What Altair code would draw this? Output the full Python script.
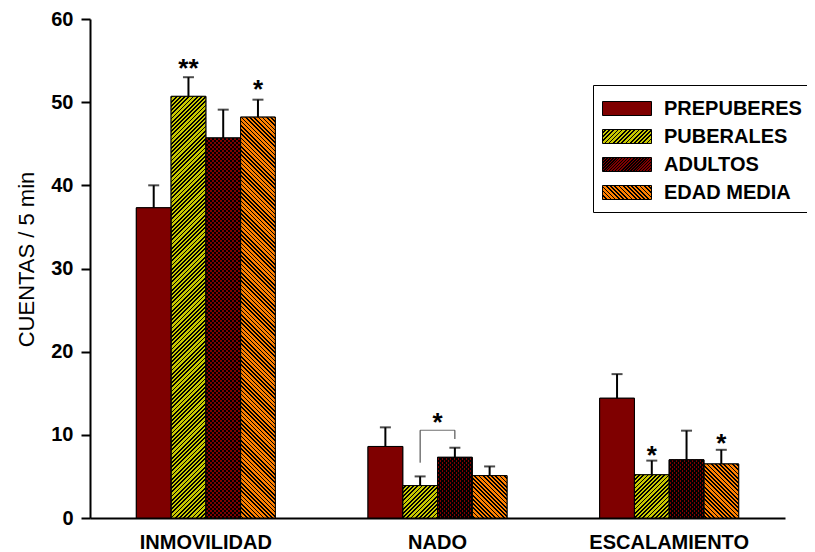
import math
import pandas as pd
import altair as alt

# ---------------- data ----------------
condiciones = ["INMOVILIDAD", "NADO", "ESCALAMIENTO"]
grupos = ["PREPUBERES", "PUBERALES", "ADULTOS", "EDAD MEDIA"]

prepuberes = [37.3, 8.6, 14.4]
prepuberes_ee = [2.7, 2.3, 2.9]
puberales = [50.7, 3.9, 5.2]
puberales_ee = [2.3, 1.1, 1.7]
adultos = [45.7, 7.3, 7.0]
adultos_ee = [3.4, 1.15, 3.5]
edad_media = [48.2, 5.1, 6.5]
edad_media_ee = [2.1, 1.1, 1.7]

# significance marks
estrella_cond = ["INMOVILIDAD", "INMOVILIDAD", "ESCALAMIENTO", "ESCALAMIENTO"]
estrella_grupo = ["PUBERALES", "EDAD MEDIA", "PUBERALES", "EDAD MEDIA"]
estrella_txt = ["**", "*", "*", "*"]
estrella_y = [53.0, 50.5, 6.55, 7.9]

# bracket PUBERALES vs ADULTOS in NADO
corchete_cond = "NADO"
corchete_grupos = ["PUBERALES", "ADULTOS"]
corchete_base = [6.65, 9.5]
corchete_top = 10.55
corchete_txt_y = 10.5

colores = ["#7f0000", "#c8c800", "#800000", "#ff8000"]

# ---------------- layout / style ----------------
FONT = "Liberation Sans"
W, H = 695, 499
YMAX = 60
P_IN, P_OUT = 0.4, 0.2
STEP = W / (len(condiciones) - P_IN + 2 * P_OUT)
BAR_W = STEP * (1 - P_IN) / len(grupos)
PX = H / YMAX
SEG = 10          # hatch drawn in vertical pieces of this many units
PERIOD = 4.2      # hatch period (px, along x)
CLEAR = "rgba(0,0,0,0)"

rows = []
for g, m, e in zip(grupos, [prepuberes, puberales, adultos, edad_media],
                   [prepuberes_ee, puberales_ee, adultos_ee, edad_media_ee]):
    for c, mv, ev in zip(condiciones, m, e):
        rows.append({"cond": c, "grupo": g, "media": mv, "sup": round(mv + ev, 3)})
df = pd.DataFrame(rows)

df_star = pd.DataFrame({"cond": estrella_cond, "grupo": estrella_grupo,
                        "txt": estrella_txt, "ypos": estrella_y})
df_br = pd.DataFrame({"cond": [corchete_cond] * 2, "grupo": corchete_grupos,
                      "ypos": corchete_base, "ytop": [corchete_top] * 2})
df_brh = pd.DataFrame({"cond": [corchete_cond], "ypos": [corchete_top],
                       "txt": ["*"], "ytxt": [corchete_txt_y]})


def stripe_stops(L, phase, P, frac, bg, fg):
    def col(u):
        f = ((u + phase) / P) % 1.0
        return fg if f >= 1 - frac else bg
    bounds = []
    k = math.floor(phase / P) - 2
    while k * P - phase <= L + P:
        for b in (k * P + (1 - frac) * P, (k + 1) * P):
            ub = b - phase
            if 0 < ub < L:
                bounds.append(ub)
        k += 1
    pts = [0.0] + sorted(set(bounds)) + [L]
    stops = []
    for a, b in zip(pts[:-1], pts[1:]):
        c = col((a + b) / 2)
        stops.append({"offset": round(a / L, 5), "color": c})
        stops.append({"offset": round(b / L, 5), "color": c})
    return stops


def stripe_grad(w, h, direction, bg, fg, ytop=0.0, P=PERIOD, frac=0.42):
    """Diagonal hatch as a linear gradient in bbox units; phase fixed to page pixels."""
    L = w + h
    k = L / (w * w + h * h)
    if direction == "/":
        stops = stripe_stops(L, ytop, P, frac, bg, fg)
        return {"gradient": "linear", "x1": 0, "y1": 0,
                "x2": round(w * k, 6), "y2": round(h * k, 6), "stops": stops}
    stops = stripe_stops(L, -(ytop + h), P, frac, bg, fg)
    return {"gradient": "linear", "x1": 0, "y1": 1,
            "x2": round(w * k, 6), "y2": round(1 - h * k, 6), "stops": stops}


def grad_js(g):
    st = ",".join("{offset:%s,color:'%s'}" % (s["offset"], s["color"]) for s in g["stops"])
    return "{gradient:'linear',x1:%s,y1:%s,x2:%s,y2:%s,stops:[%s]}" % (
        g["x1"], g["y1"], g["x2"], g["y2"], st)


X = alt.X("cond:N", sort=condiciones,
          scale=alt.Scale(domain=condiciones, paddingInner=P_IN, paddingOuter=P_OUT),
          axis=alt.Axis(title=None, labelAngle=0, labelFont=FONT, labelFontSize=20,
                        labelFontWeight="bold", labelColor="black", ticks=False,
                        domainColor="black", domainWidth=2, labelPadding=14, grid=False))
XO = alt.XOffset("grupo:N", sort=grupos, scale=alt.Scale(domain=grupos))

y_axis = alt.Axis(title="CUENTAS / 5 min", values=list(range(0, 61, 10)), grid=False,
                  labelFont=FONT, labelFontSize=20, labelFontWeight="bold",
                  labelColor="black", tickColor="black", tickSize=9, tickWidth=2,
                  domainColor="black", domainWidth=2, labelPadding=8,
                  titleFont=FONT, titleFontSize=22, titleFontWeight="normal",
                  titleColor="black", titleX=-52, titleY=240)
y_scale = alt.Scale(domain=[0, YMAX], nice=False)


def Y(field):
    return alt.Y(field, scale=y_scale, axis=y_axis)


# legend symbol: 49 x 14 px rectangle
SYM_S = 28
SYM = "M-1.75,-0.5H1.75V0.5H-1.75Z"
LEG_W, LEG_H = 49, 14
legend_range = [
    colores[0],
    {"expr": grad_js(stripe_grad(LEG_W, LEG_H, "/", colores[1], "#000000"))},
    {"expr": grad_js(stripe_grad(LEG_W, LEG_H, "/", colores[2], "#000000", P=3.0, frac=0.5))},
    {"expr": grad_js(stripe_grad(LEG_W, LEG_H, "\\", colores[3], "#000000"))},
]

leg_kw = dict(title=None, orient="none", legendX=503, legendY=66,
              symbolType=SYM, symbolSize=SYM_S * SYM_S, symbolOffset=10.5,
              symbolStrokeColor="black", symbolStrokeWidth=1, symbolOpacity=1,
              labelFont=FONT, labelFontSize=20, labelFontWeight="bold",
              labelColor="black", labelOffset=22.5, rowPadding=3, padding=9,
              strokeColor="black", fillColor="white", labelLimit=300)


def hatch_layers():
    out = []
    for c, g, m in zip(df["cond"], df["grupo"], df["media"]):
        if g == "PREPUBERES":
            continue
        filt = "datum.cond === '%s' && datum.grupo === '%s'" % (c, g)
        lo = 0.0
        while lo < m - 1e-9:
            hi = min(m, lo + SEG)
            hi_draw = hi if hi >= m else hi + 0.06
            h = (hi_draw - lo) * PX
            ytop = (YMAX - hi_draw) * PX
            if g == "PUBERALES":
                fills = [stripe_grad(BAR_W, h, "/", colores[1], "#000000", ytop)]
            elif g == "EDAD MEDIA":
                fills = [stripe_grad(BAR_W, h, "\\", colores[3], "#000000", ytop)]
            else:
                fills = [stripe_grad(BAR_W, h, "/", CLEAR, "#000000", ytop, P=4.0, frac=0.4),
                         stripe_grad(BAR_W, h, "\\", CLEAR, "#000000", ytop, P=4.0, frac=0.4)]
            for f in fills:
                out.append(alt.Chart(df).transform_filter(filt).transform_calculate(
                    lo="%s" % lo, hi="%s" % round(hi_draw, 4)).mark_bar(
                    fill=f, strokeWidth=0).encode(
                    x=X, xOffset=XO, y=Y("lo:Q"), y2="hi:Q"))
            lo = hi
    return out


def build(fancy_legend):
    rng = legend_range if fancy_legend else colores
    bars = alt.Chart(df).mark_bar(stroke="black", strokeWidth=1).encode(
        x=X, xOffset=XO, y=Y("media:Q"),
        color=alt.Color("grupo:N", sort=grupos,
                        scale=alt.Scale(domain=grupos, range=rng),
                        legend=alt.Legend(**leg_kw)))
    layers = [bars]
    # solid base colour under every bar (hides the legend swatch fill)
    for g, col in zip(grupos, colores):
        layers.append(alt.Chart(df).transform_filter("datum.grupo === '%s'" % g).mark_bar(
            fill=col, strokeWidth=0).encode(x=X, xOffset=XO, y=Y("media:Q")))
    layers += hatch_layers()
    layers.append(alt.Chart(df).mark_bar(fill="transparent", stroke="black",
                                         strokeWidth=1).encode(
        x=X, xOffset=XO, y=Y("media:Q")))
    layers.append(alt.Chart(df).mark_rule(color="black", strokeWidth=2).encode(
        x=X, xOffset=XO, y=Y("media:Q"), y2="sup:Q"))
    layers.append(alt.Chart(df).mark_tick(orient="horizontal", size=11, thickness=2,
                                          color="black").encode(
        x=X, xOffset=XO, y=Y("sup:Q")))
    layers.append(alt.Chart(df_star).mark_text(font=FONT, fontSize=26, fontWeight="bold",
                                               baseline="alphabetic", color="black").encode(
        x=X, xOffset=XO, y=Y("ypos:Q"), text="txt:N"))
    layers.append(alt.Chart(df_br).mark_rule(color="#333333", strokeWidth=1).encode(
        x=X, xOffset=XO, y=Y("ypos:Q"), y2="ytop:Q"))
    layers.append(alt.Chart(df_brh).mark_tick(orient="horizontal", size=BAR_W, thickness=1,
                                              color="#333333").encode(
        x=X, y=Y("ypos:Q")))
    layers.append(alt.Chart(df_brh).mark_text(font=FONT, fontSize=26, fontWeight="bold",
                                              baseline="alphabetic", color="black").encode(
        x=X, y=Y("ytxt:Q"), text="txt:N"))
    ch = alt.layer(*layers).properties(
        width=W, height=H,
        background="white",
        autosize=alt.AutoSizeParams(type="none"),
        padding={"left": 82, "top": 11, "right": 22, "bottom": 33},
    ).configure_view(strokeWidth=0, strokeOpacity=0, fill="white")
    return ch


chart = None
for fancy in (True, False):
    try:
        c = build(fancy)
        c.to_dict()
        chart = c
        break
    except Exception:
        continue

chart.save("out.html", embed_options={"renderer": "svg", "actions": False})
